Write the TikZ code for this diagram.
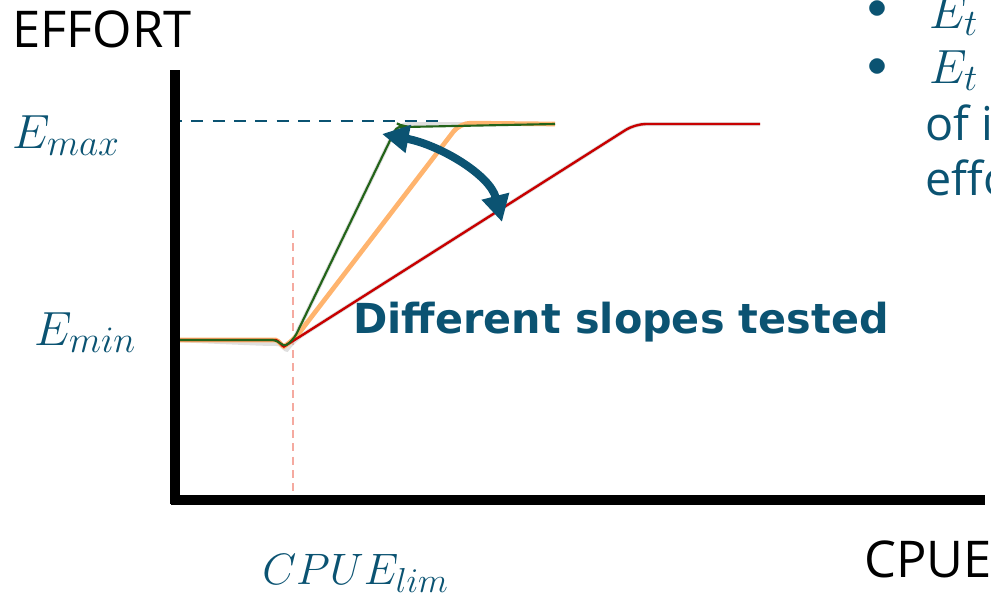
\documentclass[tikz,border=0pt]{standalone}
\usepackage{fix-cm}
\usepackage{fontspec}
\setsansfont{Open Sans}
\newfontfamily\boldsans{DejaVu Sans}
\DeclareMathSizes{36}{36}{28}{22}
\DeclareMathSizes{33}{33}{26}{20}
\usetikzlibrary{arrows.meta}
\definecolor{teal}{RGB}{11,83,114}
\definecolor{lgreen}{RGB}{35,100,25}
\definecolor{lorange}{RGB}{255,180,110}
\definecolor{lred}{RGB}{200,0,0}
\definecolor{lpink}{RGB}{245,170,160}
\tikzset{
  axis/.style={line width=7.5pt,black},
  shadowline/.style={line width=3pt,black!25,opacity=0.5},
  mathlbl/.style={text=teal,inner sep=0pt,anchor=base west,font=\fontsize{36}{42}\selectfont},
  axlbl/.style={inner sep=0pt,anchor=base west,font=\sffamily\fontsize{38}{44}\selectfont},
  sidetxt/.style={text=teal,inner sep=0pt,anchor=base west,font=\sffamily\fontsize{35}{42}\selectfont},
}
\begin{document}
\begin{tikzpicture}[x=0.75pt,y=-0.75pt]
\useasboundingbox (0,0) rectangle (991,601);
\clip (0,0) rectangle (991,601);
% coordinates
\coordinate (ytop) at (175,70);
\coordinate (xend) at (985,500);
\coordinate (start) at (173,340);
\coordinate (kink) at (293,341);
\coordinate (gtop) at (398,124);
\coordinate (otop) at (460,123);
\coordinate (rtop) at (635,124);
\coordinate (gend) at (555,124);
\coordinate (rend) at (760,124);
\coordinate (dashL) at (170,121);
\coordinate (dashR) at (440,121);
\coordinate (vtop) at (293,230);
\coordinate (vbot) at (293,500);
\coordinate (arrA) at (382,134);
\coordinate (arrB) at (502,222);
% guide lines
\draw[lpink,line width=0.9pt,dash pattern=on 6pt off 4pt] (vtop) -- (vbot);
\draw[teal,line width=1.8pt,dash pattern=on 9pt off 7pt] (dashL) -- (dashR);
% shadows
\begin{scope}[shift={(3,4)}]
\draw[shadowline,rounded corners=8pt] (start) -- (265,340) .. controls (278,340) and (283,347) .. (kink) -- (rtop) -- (rend);
\draw[shadowline,rounded corners=8pt] (kink) -- (gtop) -- (gend);
\end{scope}
% curves
\draw[lorange,line width=3.5pt,rounded corners=8pt] (start) -- (265,340) .. controls (278,340) and (283,347) .. (kink) -- (otop) -- (gend);
\draw[lred,line width=1.8pt,rounded corners=8pt] (start) -- (265,340) .. controls (278,340) and (283,347) .. (kink) -- (rtop) -- (rend);
\draw[lgreen,line width=1.6pt,rounded corners=6pt] (start) -- (265,340) .. controls (278,340) and (283,347) .. (kink) -- (gtop) -- (404,127) -- (gend);
% axes
\draw[axis] (ytop) -- (175,504);
\draw[axis] (171,500) -- (xend);
% double arrow
\draw[teal,line width=6pt,{Triangle[length=20pt,width=20pt]}-{Triangle[length=20pt,width=20pt]}] (arrA) .. controls (440,145) and (490,175) .. (arrB);
% labels
\node[axlbl] (effort) at (12,47) {EFFORT};
\node[axlbl] (cpue) at (864,577) {CPUE};
\node[mathlbl] (emax) at (12,148) {$E_{max}$};
\node[mathlbl] (emin) at (34,345) {$E_{min}$};
\node[mathlbl,font=\fontsize{33}{40}\selectfont] (cpuelim) at (262,584) {$CPUE_{lim}$};
\node[text=teal,inner sep=0pt,anchor=base west,font=\boldsans\bfseries\fontsize{31}{36}\selectfont] (slopes) at (353,333) {Different slopes tested};
% side text
\node[text=teal,inner sep=0pt,font=\fontsize{30}{30}\selectfont] (b1) at (877,10) {$\bullet$};
\node[text=teal,inner sep=0pt,font=\fontsize{30}{30}\selectfont] (b2) at (877,68) {$\bullet$};
\node[mathlbl] (et1) at (929,28) {$E_t\,=$};
\node[mathlbl] (et2) at (929,83) {$E_t\,=$};
\node[sidetxt] (l3) at (925,140) {of income};
\node[sidetxt] (l4) at (925,195) {effort};
\end{tikzpicture}
\end{document}
